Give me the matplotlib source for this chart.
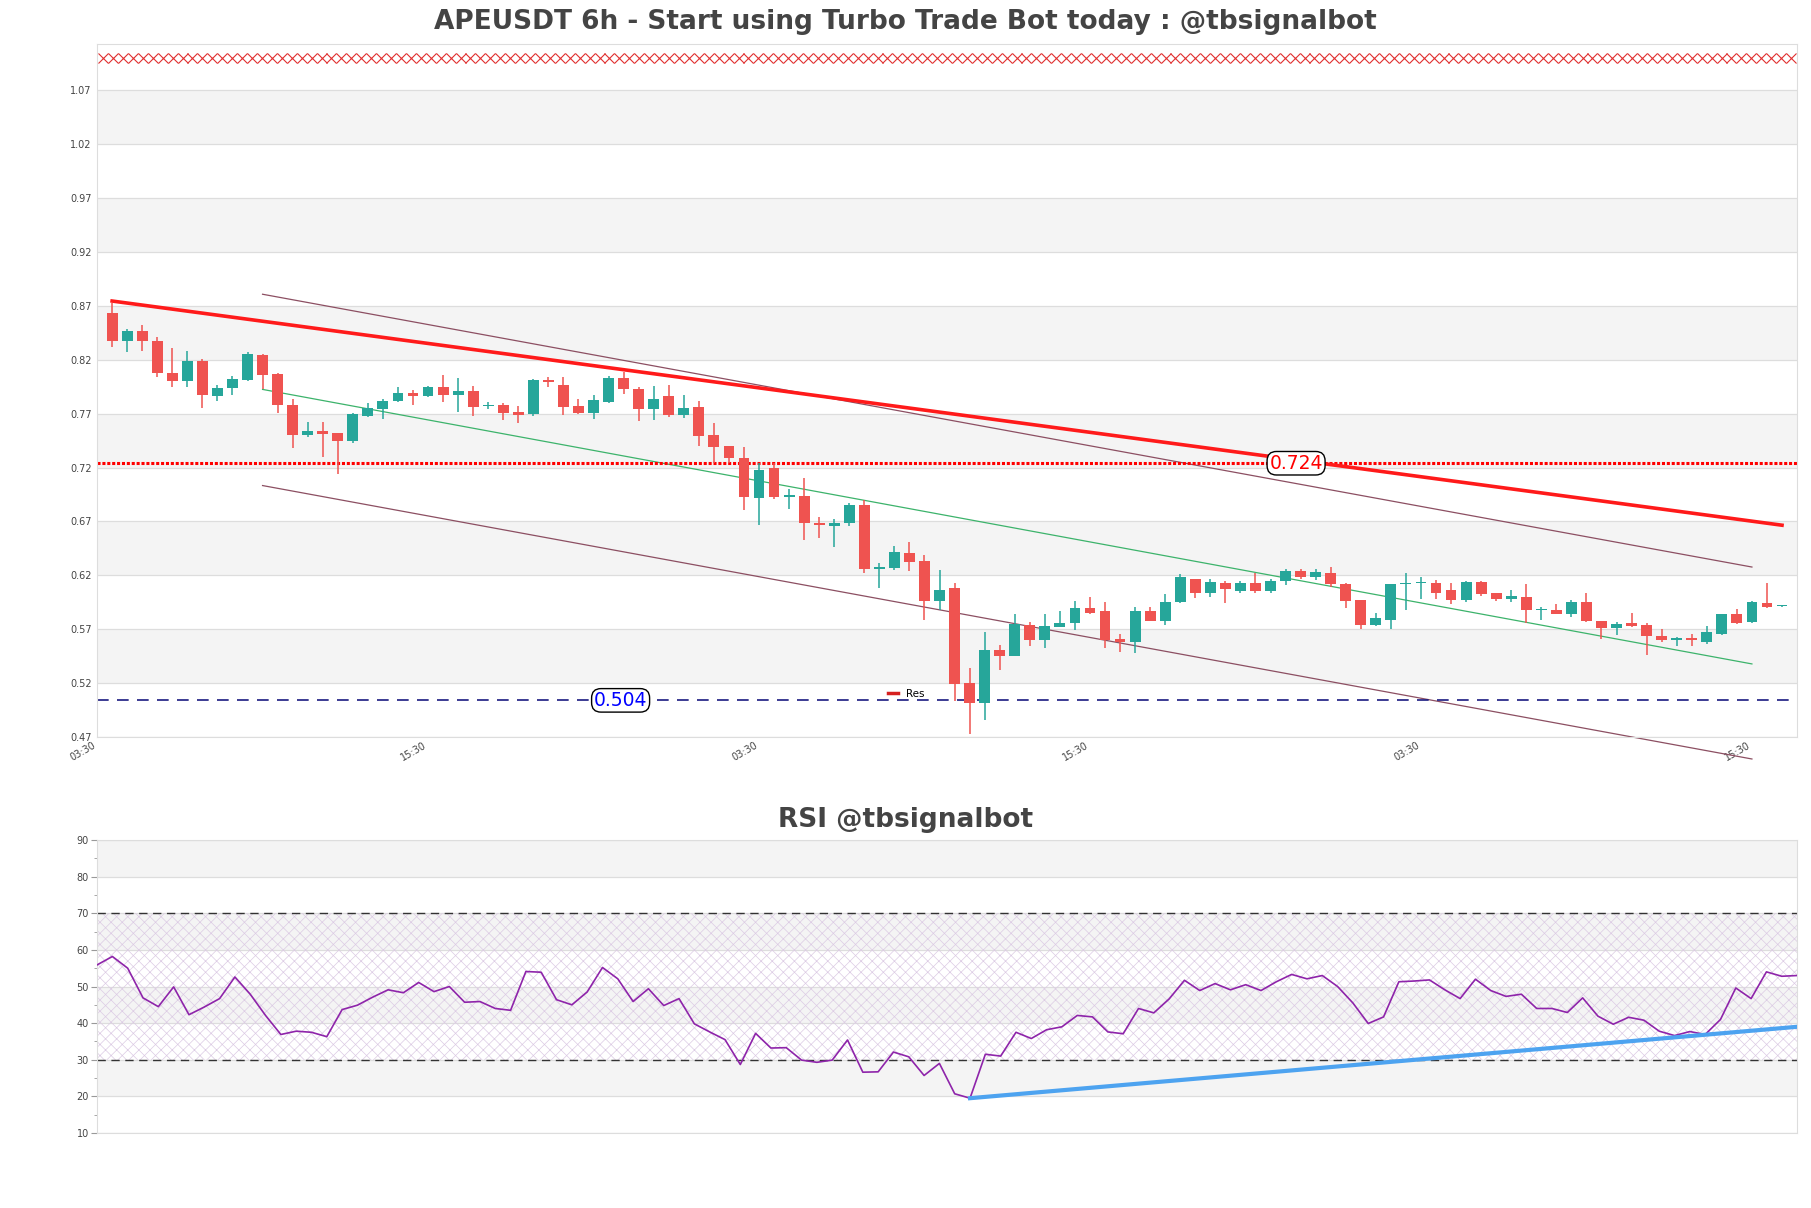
import numpy as np
import matplotlib
matplotlib.use("Agg")
import matplotlib.pyplot as plt
from matplotlib.lines import Line2D

# ---- data (6h candles, index 0..111) ----
opens = [0.863, 0.837, 0.847, 0.837, 0.808, 0.800, 0.819, 0.786, 0.794, 0.801,
         0.824, 0.807, 0.778, 0.750, 0.754, 0.752, 0.745, 0.768, 0.774, 0.782,
         0.789, 0.786, 0.795, 0.787, 0.791, 0.777, 0.778, 0.772, 0.770, 0.801,
         0.797, 0.777, 0.771, 0.781, 0.803, 0.793, 0.774, 0.786, 0.769, 0.776,
         0.750, 0.740, 0.729, 0.692, 0.720, 0.693, 0.694, 0.669, 0.666, 0.669,
         0.685, 0.626, 0.627, 0.641, 0.633, 0.596, 0.608, 0.520, 0.502, 0.551,
         0.545, 0.574, 0.560, 0.572, 0.576, 0.590, 0.587, 0.561, 0.558, 0.587,
         0.578, 0.595, 0.617, 0.604, 0.613, 0.605, 0.613, 0.605, 0.615, 0.624,
         0.618, 0.622, 0.612, 0.597, 0.574, 0.579, 0.612, 0.613, 0.613, 0.606,
         0.597, 0.614, 0.604, 0.598, 0.600, 0.588, 0.588, 0.584, 0.595, 0.578,
         0.571, 0.576, 0.574, 0.564, 0.560, 0.562, 0.558, 0.566, 0.584, 0.577,
         0.594, 0.5915]
highs = [0.873, 0.849, 0.852, 0.841, 0.831, 0.828, 0.821, 0.797, 0.805, 0.827,
         0.825, 0.808, 0.784, 0.762, 0.762, 0.752, 0.771, 0.780, 0.784, 0.795,
         0.792, 0.796, 0.806, 0.803, 0.796, 0.781, 0.780, 0.777, 0.802, 0.804,
         0.804, 0.784, 0.787, 0.805, 0.809, 0.795, 0.796, 0.797, 0.787, 0.782,
         0.761, 0.740, 0.739, 0.724, 0.724, 0.700, 0.710, 0.674, 0.672, 0.687,
         0.690, 0.631, 0.647, 0.651, 0.639, 0.625, 0.613, 0.534, 0.567, 0.555,
         0.584, 0.577, 0.584, 0.587, 0.596, 0.600, 0.595, 0.566, 0.591, 0.591,
         0.603, 0.621, 0.617, 0.617, 0.615, 0.615, 0.622, 0.617, 0.626, 0.626,
         0.626, 0.628, 0.613, 0.597, 0.585, 0.612, 0.622, 0.618, 0.616, 0.613,
         0.615, 0.615, 0.604, 0.606, 0.612, 0.591, 0.593, 0.597, 0.604, 0.578,
         0.577, 0.585, 0.576, 0.570, 0.563, 0.566, 0.573, 0.584, 0.589, 0.596,
         0.613, 0.5925]
lows = [0.832, 0.827, 0.828, 0.804, 0.795, 0.795, 0.775, 0.782, 0.787, 0.800,
        0.793, 0.771, 0.738, 0.748, 0.730, 0.714, 0.743, 0.767, 0.765, 0.781,
        0.778, 0.785, 0.781, 0.772, 0.768, 0.774, 0.764, 0.761, 0.768, 0.795,
        0.769, 0.770, 0.765, 0.780, 0.788, 0.763, 0.764, 0.767, 0.766, 0.740,
        0.724, 0.724, 0.681, 0.667, 0.691, 0.682, 0.653, 0.655, 0.646, 0.666,
        0.622, 0.608, 0.625, 0.624, 0.579, 0.588, 0.503, 0.473, 0.486, 0.532,
        0.545, 0.554, 0.553, 0.572, 0.569, 0.584, 0.553, 0.549, 0.548, 0.578,
        0.574, 0.594, 0.599, 0.600, 0.594, 0.604, 0.604, 0.604, 0.611, 0.617,
        0.616, 0.609, 0.590, 0.570, 0.573, 0.570, 0.588, 0.598, 0.598, 0.593,
        0.595, 0.601, 0.596, 0.595, 0.576, 0.579, 0.584, 0.581, 0.577, 0.561,
        0.565, 0.572, 0.546, 0.558, 0.554, 0.554, 0.556, 0.565, 0.575, 0.576,
        0.590, 0.5910]
closes = [0.837, 0.847, 0.837, 0.808, 0.800, 0.819, 0.787, 0.794, 0.802, 0.825,
          0.806, 0.778, 0.750, 0.754, 0.751, 0.745, 0.770, 0.775, 0.782, 0.789,
          0.786, 0.795, 0.787, 0.791, 0.776, 0.778, 0.771, 0.769, 0.801, 0.799,
          0.776, 0.771, 0.783, 0.803, 0.793, 0.774, 0.784, 0.769, 0.775, 0.749,
          0.739, 0.729, 0.693, 0.718, 0.693, 0.694, 0.669, 0.667, 0.669, 0.685,
          0.626, 0.628, 0.642, 0.632, 0.596, 0.606, 0.519, 0.502, 0.551, 0.545,
          0.575, 0.560, 0.573, 0.576, 0.590, 0.585, 0.560, 0.558, 0.587, 0.578,
          0.595, 0.618, 0.604, 0.614, 0.607, 0.613, 0.605, 0.615, 0.624, 0.618,
          0.623, 0.612, 0.596, 0.574, 0.580, 0.612, 0.613, 0.614, 0.604, 0.597,
          0.614, 0.603, 0.598, 0.601, 0.588, 0.588, 0.584, 0.595, 0.578, 0.571,
          0.575, 0.573, 0.564, 0.560, 0.562, 0.560, 0.567, 0.584, 0.576, 0.595,
          0.591, 0.5920]

rsi = [55.9, 58.2, 55.0, 46.9, 44.5, 49.9, 42.3, 44.4, 46.7, 52.6,
       47.9, 42.1, 36.9, 37.8, 37.5, 36.3, 43.7, 44.9, 47.1, 49.1,
       48.3, 51.1, 48.6, 50.0, 45.7, 45.9, 44.0, 43.5, 54.1, 53.9,
       46.4, 45.0, 48.5, 55.2, 52.1, 45.9, 49.4, 44.8, 46.7, 39.8,
       37.6, 35.5, 28.7, 37.2, 33.2, 33.3, 29.9, 29.3, 29.9, 35.4,
       26.6, 26.7, 32.1, 30.8, 25.7, 29.0, 20.7, 19.5, 31.5, 31.0,
       37.5, 35.8, 38.2, 39.0, 42.1, 41.7, 37.6, 37.1, 44.0, 42.8,
       46.6, 51.7, 48.9, 50.8, 49.1, 50.5, 48.9, 51.3, 53.3, 52.1,
       53.0, 50.0, 45.5, 39.9, 41.7, 51.3, 51.5, 51.8, 49.1, 46.7,
       52.0, 48.9, 47.3, 47.9, 44.0, 44.0, 42.9, 46.9, 41.9, 39.7,
       41.6, 40.8, 37.8, 36.6, 37.7, 36.9, 41.0, 49.6, 46.7, 54.0,
       52.8, 53.0]

tick_idx = [-1, 21, 43, 65, 87, 109]
tick_labels = ["03:30", "15:30", "03:30", "15:30", "03:30", "15:30"]

res_level = 0.724
sup_level = 0.504
top_marks = 1.10
trend_x = [0, 111]
trend_y = [0.8745, 0.6665]
chan_x = [10, 109]
chan_upper = [0.8808, 0.6277]
chan_mid = [0.7925, 0.5378]
chan_lower = [0.7033, 0.4496]
rsi_trend_x = [57, 111]
rsi_trend_y = [19.5, 39.0]

GREEN = "#26a69a"
RED = "#ef5350"
BAND = "#f4f4f4"
GRID = "#dddddd"
TXT = "#444444"

fig = plt.figure(figsize=(18.11, 12.08), dpi=100)
ax = fig.add_axes([0.0536, 0.3899, 0.9387, 0.5737])
ax2 = fig.add_axes([0.0536, 0.0621, 0.9387, 0.2425])

# ---- price panel ----
ylo, yhi = 0.47, 1.113
yt = np.round(np.arange(0.47, 1.071, 0.05), 2)
for k, v in enumerate(yt[:-1]):
    if k % 2 == 1:
        ax.axhspan(v, v + 0.05, color=BAND, zorder=0, lw=0)
for v in yt:
    ax.axhline(v, color=GRID, lw=0.9, zorder=0.5)

x = np.arange(len(opens))
for i in x:
    o, h, l, c = opens[i], highs[i], lows[i], closes[i]
    col = GREEN if c >= o else RED
    ax.vlines(i, l, h, color=col, lw=1.1, zorder=3)
    body = max(abs(c - o), 0.0012)
    ax.bar(i, body, bottom=min(o, c), width=0.72, color=col, lw=0, zorder=4)

ax.plot(trend_x, trend_y, color="#ff1a1a", lw=2.6, zorder=5)
ax.plot(chan_x, chan_upper, color="#8c4f62", lw=0.9, zorder=2, clip_on=False)
ax.plot(chan_x, chan_lower, color="#8c4f62", lw=0.9, zorder=2, clip_on=False)
ax.plot(chan_x, chan_mid, color="#3cb36b", lw=0.9, zorder=2)

ax.axhline(res_level, color="red", lw=2.2, ls=(0, (1, 0.6)), zorder=2)
ax.axhline(sup_level, color="#1a1a80", lw=1.2, ls=(0, (7, 5)), zorder=2)
ax.text(78.7, res_level, "%.3f" % res_level, color="red", fontsize=13.5,
        ha="center", va="center", zorder=6,
        bbox=dict(boxstyle="round,pad=0.12,rounding_size=0.5", fc="white", ec="black", lw=1))
ax.text(33.8, sup_level, "%.3f" % sup_level, color="blue", fontsize=13.5,
        ha="center", va="center", zorder=6,
        bbox=dict(boxstyle="round,pad=0.12,rounding_size=0.5", fc="white", ec="black", lw=1))

mx = np.arange(-0.6, 112, 0.66)
ax.plot(mx, np.full(len(mx), top_marks), ls="none", marker="x", ms=6.5, mew=0.8,
        color="#e03030", zorder=3)

leg = ax.legend([Line2D([0], [0], color="#d62020", lw=2.5)], ["Res"],
                loc="center", bbox_to_anchor=(0.476, 0.062), frameon=False,
                fontsize=7.5, handlelength=1.0, handletextpad=0.8)

ax.set_xlim(-1, 112)
ax.set_ylim(ylo, yhi)
ax.set_yticks(yt)
ax.set_yticklabels(["%.2f" % v for v in yt])
ax.set_xticks(tick_idx)
ax.set_xticklabels(tick_labels, rotation=30, ha="right")
ax.tick_params(axis="both", length=0, labelsize=7, labelcolor=TXT, pad=4)
ax.tick_params(axis="x", pad=2)
for s in ax.spines.values():
    s.set_color(GRID)

# ---- RSI panel ----
for lo in (80, 60, 40, 20):
    ax2.axhspan(lo, lo + 10, color=BAND, zorder=0, lw=0)
for v in range(10, 91, 10):
    ax2.axhline(v, color=GRID, lw=0.9, zorder=0.5)
plt.rcParams["hatch.linewidth"] = 0.5
ax2.fill_between([0, len(rsi) - 1], 30, 70, facecolor="none",
                 edgecolor="#dccbe4", hatch="xxx", lw=0, zorder=1)
ax2.axhline(70, color="#333333", lw=1.0, ls=(0, (6, 4)), zorder=2)
ax2.axhline(30, color="#333333", lw=1.0, ls=(0, (6, 4)), zorder=2)
ax2.plot(np.arange(len(rsi)), rsi, color="#8e24aa", lw=1.2, zorder=3)
ax2.plot(rsi_trend_x, rsi_trend_y, color="#4da3f0", lw=3, zorder=4)

ax2.set_xlim(0, len(rsi) - 1)
ax2.set_ylim(10, 90)
ax2.set_yticks(range(10, 91, 10))
ax2.set_yticks(range(15, 90, 10), minor=True)
ax2.set_xticks([])
ax2.tick_params(axis="y", which="major", length=4, color="#999999",
                labelsize=7, labelcolor=TXT, pad=2)
ax2.tick_params(axis="y", which="minor", length=2, color="#999999")
for s in ax2.spines.values():
    s.set_color(GRID)

fig.text(0.5, 0.982, "APEUSDT 6h - Start using Turbo Trade Bot today : @tbsignalbot",
         ha="center", va="center", fontsize=19, fontweight="bold", color=TXT)
fig.text(0.5, 0.3212, "RSI @tbsignalbot", ha="center", va="center",
         fontsize=19, fontweight="bold", color=TXT)

fig.savefig("out.png", dpi=100)
